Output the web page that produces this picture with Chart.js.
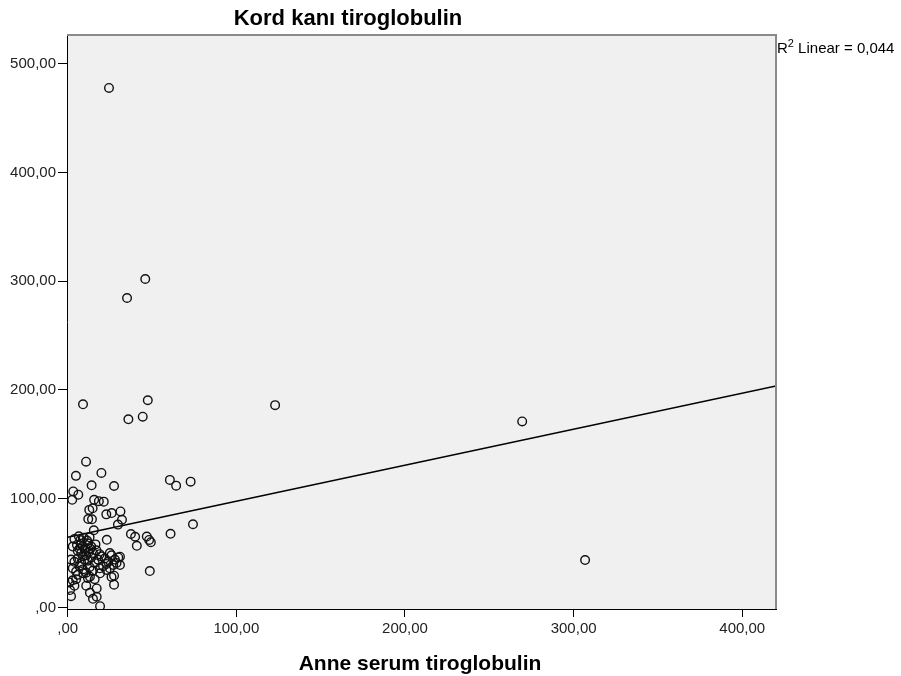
<!DOCTYPE html>
<html>
<head>
<meta charset="utf-8">
<script src="https://cdn.jsdelivr.net/npm/chart.js@4.4.1/dist/chart.umd.min.js"></script>
<style>
  html, body { margin: 0; padding: 0; background: #fff; }
</style>
</head>
<body>
<canvas id="scatter" width="901" height="676"></canvas>
<script>
// Anne serum tiroglobulin (x) / Kord kanı tiroglobulin (y)
const anneSerum = [
  24.5, 46, 35.2, 9.1, 47.5, 36, 44.5, 123, 269.5, 306.8,
  10.9, 4.9, 20, 14.2, 27.5, 3.3, 6.3, 2.7, 60.6, 64.3,
  72.9, 74.3, 61, 48.7, 37.5, 40, 41, 46.9, 48.3, 49.3,
  23.2, 15.7, 18.5, 21.4, 12.8, 14.8, 22.9, 26.1, 31.3, 32.2,
  29.8, 12.2, 14.4, 15.5, 6.6, 27.5, 27.5, 31, 31, 13.2,
  17.2, 17.2, 19.2, 2,
  4, 7.5, 9.5, 11.5, 13, 8,
  3, 5.5, 9, 12, 14, 16.5, 10.5,
  6, 8, 10, 11, 12.5, 13.5, 15, 17, 19, 7, 9,
  2, 4, 6, 8, 10, 12, 14, 16, 18, 20, 22, 24, 26, 28, 30, 25, 23,
  3, 5, 7, 9, 11, 13, 15, 19, 21, 23, 25, 27, 29,
  6, 9.3, 12, 13.2, 16, 19.2, 26,
  1, 3, 5, 4, 1.4, 11, 15
];
const kordKani = [
  477.6, 302, 284.5, 186.8, 190.5, 173, 175.4, 186, 171, 43.6,
  134, 121, 123.7, 112.3, 111.7, 106.7, 103.7, 99, 117.3, 112,
  115.7, 76.5, 67.7, 33.5, 67.5, 65, 56.7, 65.2, 62.1, 60,
  62.2, 99, 97.7, 97.3, 89.7, 91.2, 85.6, 86.8, 88.3, 80.6,
  76.2, 81.3, 81.1, 71, 65.5, 29.2, 21, 46.7, 39, 13.5,
  17.5, 9.8, 1.2, 10.4,
  63, 62, 64, 61.5, 64.5, 58.5,
  56, 57.5, 56.5, 59, 56, 58, 54.5,
  52, 50, 53, 48, 51, 54, 50, 52.5, 49, 54, 47,
  44, 42, 45, 41, 44, 43, 46, 41, 44, 47, 45, 42, 48, 44, 46, 50, 40,
  36, 33, 38, 35, 32, 37, 34, 36, 38, 34.5, 36, 39, 41,
  30, 31.4, 27, 28.3, 26, 31.4, 28,
  23, 25, 26, 20, 16, 20, 8
];
const xTicks = [0, 100, 200, 300, 400];
const yTicks = [0, 100, 200, 300, 400, 500];
const fitIntercept = 64.6;
const fitSlope = 0.331;
const fitRange = [0, 420];
const r2Text = '0,044';

const points = anneSerum.map((x, i) => ({ x: x, y: kordKani[i] }));
const fitLine = fitRange.map(x => ({ x: x, y: fitIntercept + fitSlope * x }));

function spssNum(v) {
  if (v === 0) return ',00';
  return v.toFixed(2).replace('.', ',');
}

const spssFrame = {
  id: 'spssFrame',
  beforeDraw(chart) {
    const ctx = chart.ctx;
    const a = chart.chartArea;
    ctx.save();
    ctx.fillStyle = '#fff';
    ctx.fillRect(0, 0, chart.width, chart.height);
    ctx.fillStyle = '#f0f0f0';
    ctx.fillRect(a.left, a.top, a.right - a.left, a.bottom - a.top);
    ctx.restore();
  },
  afterDraw(chart) {
    const ctx = chart.ctx;
    const a = chart.chartArea;
    ctx.save();
    // top and right frame
    ctx.strokeStyle = '#8a8a8a';
    ctx.lineWidth = 2;
    ctx.beginPath();
    ctx.moveTo(a.left, a.top);
    ctx.lineTo(a.right, a.top);
    ctx.lineTo(a.right, a.bottom);
    ctx.stroke();

    ctx.fillStyle = '#000';
    ctx.textAlign = 'center';
    ctx.textBaseline = 'alphabetic';
    ctx.font = 'bold 22px "Liberation Sans", Arial, sans-serif';
    ctx.fillText('Kord kanı tiroglobulin', 348, 25);

    ctx.font = 'bold 21px "Liberation Sans", Arial, sans-serif';
    ctx.fillText('Anne serum tiroglobulin', 420, 670);

    // R2 label
    ctx.textAlign = 'left';
    ctx.font = '15px "Liberation Sans", Arial, sans-serif';
    ctx.fillText('R', 777, 53);
    const rw = ctx.measureText('R').width;
    ctx.font = '11px "Liberation Sans", Arial, sans-serif';
    ctx.fillText('2', 777 + rw, 47);
    const sw = ctx.measureText('2').width;
    ctx.font = '15px "Liberation Sans", Arial, sans-serif';
    ctx.fillText(' Linear = ' + r2Text, 777 + rw + sw, 53);
    ctx.restore();
  }
};

const tickFont = { family: '"Liberation Sans", Arial, sans-serif', size: 15 };

new Chart(document.getElementById('scatter'), {
  type: 'scatter',
  data: {
    datasets: [
      {
        data: points,
        pointRadius: 4.3,
        pointBorderWidth: 1.4,
        pointBorderColor: '#111',
        pointBackgroundColor: 'rgba(0,0,0,0)',
        pointHoverRadius: 4.3
      },
      {
        type: 'line',
        data: fitLine,
        borderColor: '#000',
        borderWidth: 1.6,
        pointRadius: 0,
        fill: false
      }
    ]
  },
  options: {
    responsive: false,
    animation: false,
    devicePixelRatio: 1,
    layout: { padding: { left: 0, top: 35, right: 125, bottom: 27 } },
    plugins: { legend: { display: false }, tooltip: { enabled: false } },
    scales: {
      x: {
        type: 'linear',
        min: -0.4,
        max: 420,
        afterBuildTicks: (axis) => { axis.ticks = xTicks.map(v => ({ value: v })); },
        afterFit: (axis) => { axis.height = 40; },
        ticks: { callback: v => spssNum(v), font: tickFont, color: '#222', padding: 3, maxRotation: 0 },
        grid: { drawOnChartArea: false, drawTicks: true, tickLength: 8, tickColor: '#000' },
        border: { color: '#000', width: 1 }
      },
      y: {
        type: 'linear',
        min: -1.4,
        max: 526.3,
        afterBuildTicks: (axis) => { axis.ticks = yTicks.map(v => ({ value: v })); },
        afterFit: (axis) => { axis.width = 67; },
        ticks: { callback: v => spssNum(v), font: tickFont, color: '#222', padding: 2 },
        grid: { drawOnChartArea: false, drawTicks: true, tickLength: 9, tickColor: '#000' },
        border: { color: '#000', width: 1 }
      }
    }
  },
  plugins: [spssFrame]
});
</script>
</body>
</html>
